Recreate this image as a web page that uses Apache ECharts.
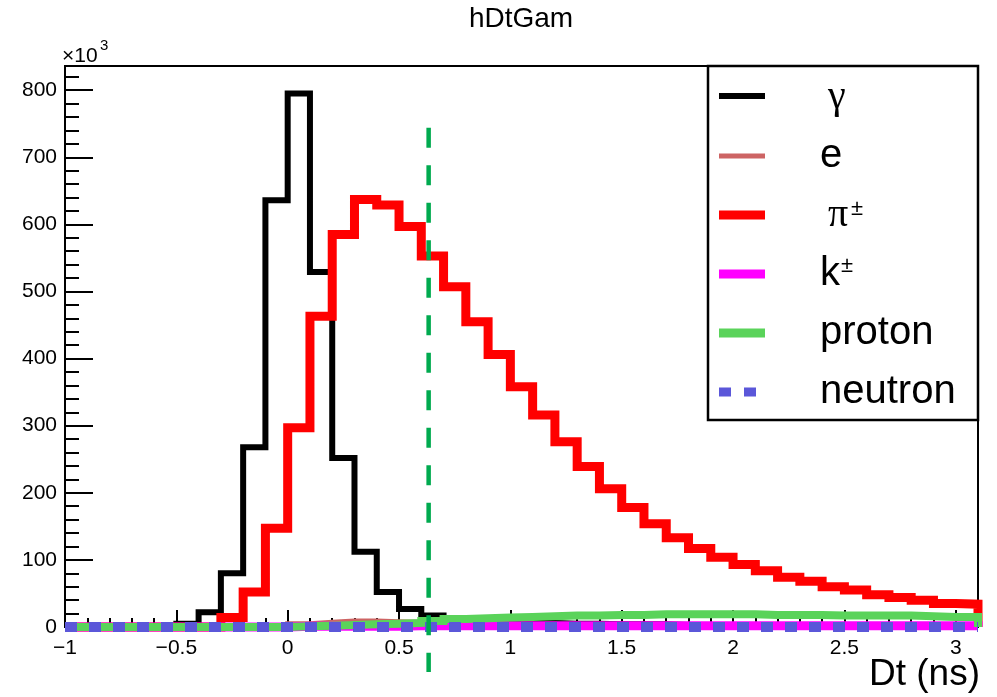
<!DOCTYPE html>
<html><head><meta charset="utf-8">
<script src="https://cdn.jsdelivr.net/npm/echarts@6/dist/echarts.min.js"></script>
<style>html,body{margin:0;padding:0;background:#fff}#c{width:997px;height:697px}</style>
</head><body><div id="c"></div>
<script>
// ---- data (counts in units of 10^3) ----
const binLowEdges = [-1.0,-0.9,-0.8,-0.7,-0.6,-0.5,-0.4,-0.3,-0.2,-0.1,0.0,0.1,0.2,0.3,0.4,0.5,0.6,0.7,0.8,0.9,1.0,1.1,1.2,1.3,1.4,1.5,1.6,1.7,1.8,1.9,2.0,2.1,2.2,2.3,2.4,2.5,2.6,2.7,2.8,2.9,3.0];
const binUpperEnd = 3.1;
const gammaVals = [0,0,0,0,1,5,22,80,268,636,795,529,252,112,52,27,17,11,9,8,7,6,5,5,4,4,4,3,3,3,3,2,2,2,2,2,2,2,1,1,1];
const electronVals = [0,0,0,0,0,0,0,0,0,1,5,7,9,9,8,7,6,5,4,4,3,3,3,3,2,2,2,2,2,2,2,2,1,1,1,1,1,1,1,1,1];
const pionVals = [0,0,0,0,0,0,0,14,52,147,297,463,585,637,629,597,553,507,455,406,358,316,276,239,206,178,154,133,117,104,93,84,74,68,60,55,48,44,40,35,34];
const kaonVals = [0,0,0,0,0,0,0,0,0,0,1,1,1,1,1,2,2,2,2,2,2,2,2,2,2,2,2,2,2,2,2,2,2,2,2,2,2,2,2,2,2];
const protonVals = [0,0,0,0,0,0,0,0,0,0,1,2,3,4,5,6,9,12,13,14,15,16,17,17,18,18,19,19,19,19,19,18,18,18,17,17,17,17,16,15,15];
const neutronVals = [0,0,0,0,0,0,0,0,0,0,0,0,0,0,0,0,0,0,0,0,0,0,0,0,0,0,0,0,0,0,0,0,0,0,0,0,0,0,0,0,0];
const cutLineX = [0.633, 0.633];
const cutLineY = [744, -67];
const xTickLabels = [-1,-0.5,0,0.5,1,1.5,2,2.5,3];
const yTickLabels = [0,100,200,300,400,500,600,700,800];

const FONT = '"Liberation Sans", Arial, Helvetica, sans-serif';
const SERIF = '"Liberation Serif", "DejaVu Serif", serif';

function histPoints(vals){
  const pts = binLowEdges.map((x,i)=>[x, vals[i]]);
  pts.push([binUpperEnd, vals[vals.length-1]]);
  pts.push([binUpperEnd, 0]);
  return pts;
}
const seriesDefs = [
  {name:'γ', vals:gammaVals, color:'#000000', width:6},
  {name:'e', vals:electronVals, color:'#cd6464', width:5},
  {name:'π±', vals:pionVals, color:'#ff0000', width:9},
  {name:'k±', vals:kaonVals, color:'#ff00ff', width:9},
  {name:'proton', vals:protonVals, color:'#5ad35a', width:8},
  {name:'neutron', vals:neutronVals, color:'#5b57d9', width:10, dash:[12,12]}
];
const series = seriesDefs.map((d,i)=>({
  name:d.name, type:'line', step:'end', symbol:'none', clip:false, z:2+i,
  xAxisIndex:0, yAxisIndex:0, silent:true,
  data:histPoints(d.vals),
  lineStyle:{color:d.color, width:d.width, join:'miter', cap:'butt', type:d.dash||'solid'}
}));
series.push({
  name:'cut', type:'line', symbol:'none', clip:false, z:20, silent:true,
  data:cutLineX.map((x,i)=>[x, cutLineY[i]]),
  lineStyle:{color:'#00aa4f', width:4.5, type:[20,17.5], cap:'butt'}
});

function fmtMinus(v){ return String(v).replace('-', '\u2212'); }

const xBase = {type:'value', min:-1, max:binUpperEnd, gridIndex:0, position:'bottom', splitLine:{show:false}};
const yBase = {type:'value', min:0, max:836, gridIndex:0, position:'left', splitLine:{show:false}};

// legend (drawn as graphic elements)
const legendRows = [
  {y:96, color:'#000000', width:6},
  {y:156, color:'#cd6464', width:5},
  {y:215, color:'#ff0000', width:9},
  {y:274, color:'#ff00ff', width:9},
  {y:333, color:'#5ad35a', width:9},
  {y:392, color:'#5b57d9', width:9, dash:[12,13]}
];
const graphic = [
  {type:'rect', z:100, shape:{x:708, y:66, width:270, height:354}, style:{fill:'#fff', stroke:'#000', lineWidth:2.5}}
];
legendRows.forEach(r=>{
  graphic.push({type:'line', z:101, shape:{x1:719, y1:r.y, x2:765, y2:r.y},
    style:{stroke:r.color, lineWidth:r.width, lineDash:r.dash||null, lineCap:'butt'}});
});
const txt = (x,y,t,size,fam,extra)=>Object.assign({type:'text', z:102, x:x, y:y,
  style:{text:t, fontSize:size, fontFamily:fam, fill:'#000', align:'left', verticalAlign:'middle'}}, extra||{});
graphic.push(txt(828, 97, 'γ', 40, SERIF));
graphic.push(txt(820, 156, 'e', 40, FONT));
graphic.push(txt(828, 215, 'π', 40, SERIF));
graphic.push(txt(851, 209, '±', 22, FONT));
graphic.push(txt(820, 274, 'k', 40, FONT));
graphic.push(txt(841, 266, '±', 22, FONT));
graphic.push(txt(820, 333, 'proton', 40, FONT));
graphic.push(txt(820, 392, 'neutron', 40, FONT));
// axis exponent and x axis title
graphic.push(txt(62, 56, '×10', 21, FONT));
graphic.push(txt(100, 46, '3', 15, FONT));
graphic.push({type:'text', z:102, x:980, y:675, style:{text:'Dt (ns)', fontSize:37, fontFamily:FONT, fill:'#000', align:'right', verticalAlign:'middle'}});

const option = {
  animation:false,
  backgroundColor:'#fff',
  title:{text:'hDtGam', left:521, top:5, padding:0, textAlign:'center',
    textStyle:{fontSize:28, fontWeight:'normal', fontFamily:FONT, color:'#000'}},
  grid:{left:65, right:19, top:66, bottom:70, show:true, borderColor:'#000', borderWidth:2, backgroundColor:'transparent'},
  xAxis:[
    Object.assign({}, xBase, {interval:0.5,
      axisLine:{show:true, onZero:false, lineStyle:{color:'#000', width:2}},
      axisTick:{show:true, inside:true, length:17, lineStyle:{color:'#000', width:2}},
      axisLabel:{show:true, margin:11, color:'#000', fontSize:21, fontFamily:FONT, showMaxLabel:false,
        formatter:(v)=> xTickLabels.indexOf(Math.round(v*10)/10) >= 0 ? fmtMinus(Math.round(v*10)/10) : ''}}),
    Object.assign({}, xBase, {interval:0.1,
      axisLine:{show:false, onZero:false},
      axisTick:{show:true, inside:true, length:9, lineStyle:{color:'#000', width:2}},
      axisLabel:{show:false}})
  ],
  yAxis:[
    Object.assign({}, yBase, {interval:100,
      axisLine:{show:true, onZero:false, lineStyle:{color:'#000', width:2}},
      axisTick:{show:true, inside:true, length:28, lineStyle:{color:'#000', width:2}},
      axisLabel:{show:true, margin:8, color:'#000', fontSize:21, fontFamily:FONT, showMaxLabel:false,
        formatter:(v)=> yTickLabels.indexOf(v) >= 0 ? String(v) : ''}}),
    Object.assign({}, yBase, {interval:20,
      axisLine:{show:false, onZero:false},
      axisTick:{show:true, inside:true, length:14, lineStyle:{color:'#000', width:2}},
      axisLabel:{show:false}})
  ],
  series:series,
  graphic:graphic
};
const chart = echarts.init(document.getElementById('c'), null, {renderer:'canvas'});
chart.setOption(option);
</script></body></html>
